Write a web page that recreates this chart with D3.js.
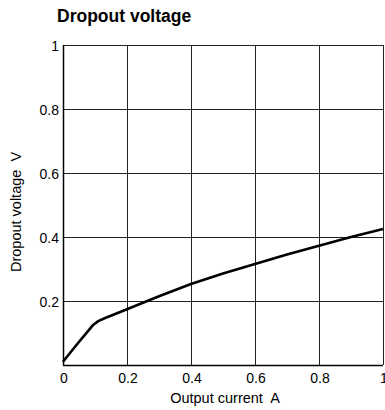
<!DOCTYPE html>
<html>
<head>
<meta charset="utf-8">
<script src="https://cdn.jsdelivr.net/npm/d3@7"></script>
<style>
  body { margin: 0; background: #fff; }
  text { font-family: "Liberation Sans", Arial, sans-serif; fill: #000; white-space: pre; }
</style>
</head>
<body>
<div id="chart"></div>
<script>
// Curve: output current (A) vs dropout voltage (V)
const current = [0, 0.04, 0.08, 0.095, 0.11, 0.13, 0.2, 0.3, 0.4, 0.5, 0.6, 0.7, 0.8, 0.9, 1.0];
const dropout = [0.01, 0.06, 0.108, 0.126, 0.137, 0.146, 0.174, 0.215, 0.253, 0.286, 0.316, 0.345, 0.373, 0.4, 0.425];
const xTicks = [0, 0.2, 0.4, 0.6, 0.8, 1];
const yTicks = [0, 0.2, 0.4, 0.6, 0.8, 1];
const yTickLabels = ["", "0.2", "0.4", "0.6", "0.8", "1"];

const margin = { top: 45, right: 2, bottom: 45, left: 63 },
  width = 320,
  height = 320;

const svg = d3
  .select("#chart")
  .append("svg")
  .attr("width", 385)
  .attr("height", 410);

const g = svg.append("g").attr("transform", `translate(${margin.left},${margin.top})`);

const x = d3.scaleLinear().domain([0, 1]).range([0, width]);
const y = d3.scaleLinear().domain([0, 1]).range([height, 0]);

// Grid lines
g.append("g")
  .selectAll("line")
  .data(xTicks)
  .join("line")
  .attr("x1", (d) => x(d) + 0.5)
  .attr("x2", (d) => x(d) + 0.5)
  .attr("y1", 0)
  .attr("y2", height)
  .attr("stroke", "#222")
  .attr("stroke-width", 1);

g.append("g")
  .selectAll("line")
  .data(yTicks)
  .join("line")
  .attr("x1", 0)
  .attr("x2", width)
  .attr("y1", (d) => y(d) + 0.5)
  .attr("y2", (d) => y(d) + 0.5)
  .attr("stroke", "#222")
  .attr("stroke-width", 1);

// Frame (left and bottom heavier)
g.append("line").attr("x1", 0.5).attr("x2", 0.5).attr("y1", 0).attr("y2", height + 0.5)
  .attr("stroke", "#000").attr("stroke-width", 1.5);
g.append("line").attr("x1", 0).attr("x2", width).attr("y1", height + 0.5).attr("y2", height + 0.5)
  .attr("stroke", "#000").attr("stroke-width", 1.5);

// Tick labels
g.append("g")
  .selectAll("text")
  .data(xTicks)
  .join("text")
  .attr("x", (d) => x(d) + 1)
  .attr("y", 338)
  .attr("text-anchor", "middle")
  .style("font-size", "14px")
  .text((d) => d3.format("~g")(d));

g.append("g")
  .selectAll("text")
  .data(yTicks)
  .join("text")
  .attr("x", -4)
  .attr("y", (d) => y(d) + 5.5)
  .attr("text-anchor", "end")
  .style("font-size", "14px")
  .text((d, i) => yTickLabels[i]);

// The curve
const line = d3
  .line()
  .x((d) => x(d[0]))
  .y((d) => y(d[1]));

g.append("path")
  .datum(current.map((c, i) => [c, dropout[i]]))
  .attr("fill", "none")
  .attr("stroke", "#000")
  .attr("stroke-width", 2.6)
  .attr("stroke-linejoin", "round")
  .attr("d", line);

// Titles
svg.append("text")
  .attr("x", 57)
  .attr("y", 22)
  .style("font-size", "17.5px")
  .style("font-weight", "bold")
  .text("Dropout voltage");

svg.append("text")
  .attr("x", 225)
  .attr("y", 403)
  .attr("text-anchor", "middle")
  .style("font-size", "14.5px")
  .text("Output current  A");

svg.append("text")
  .attr("transform", `translate(21,212) rotate(-90)`)
  .attr("text-anchor", "middle")
  .style("font-size", "14.5px")
  .text("Dropout voltage  V");
</script>
</body>
</html>
